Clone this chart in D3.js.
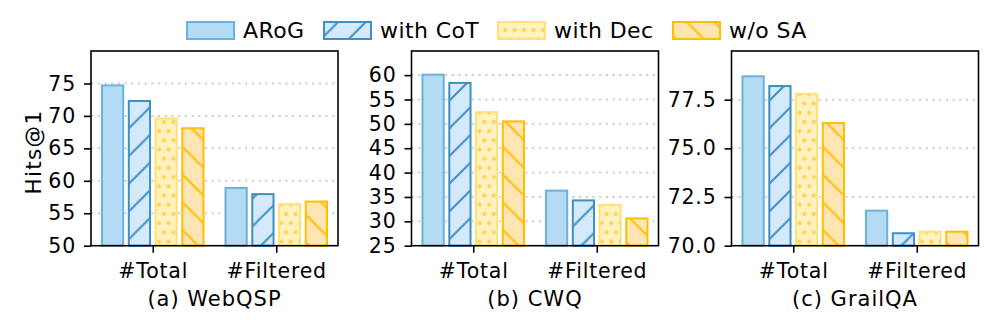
<!DOCTYPE html>
<html>
<head>
<meta charset="utf-8">
<script src="https://cdn.jsdelivr.net/npm/d3@7"></script>
<style>
  body { margin: 0; background: #fff; }
  text { font-family: "DejaVu Sans", sans-serif; fill: #000; }
</style>
</head>
<body>
<div class="container"></div>
<script>
// data
const categories = ["#Total", "#Filtered"];
const seriesNames = ["ARoG", "with CoT", "with Dec", "w/o SA"];

// rows = series, columns = categories
const webqspValues = [[74.7, 58.9], [72.3, 57.95], [69.6, 56.4], [68.1, 56.8]];
const cwqValues = [[60.1, 36.3], [58.4, 34.3], [52.4, 33.4], [50.5, 30.6]];
const grailValues = [[78.7, 71.8], [78.2, 70.64], [77.8, 70.72], [76.3, 70.72]];

const webqspTicks = [50, 55, 60, 65, 70, 75];
const cwqTicks = [25, 30, 35, 40, 45, 50, 55, 60];
const grailTicks = [70, 72.5, 75, 77.5];

const panels = [
  { caption: "(a) WebQSP", values: webqspValues, domain: [50, 80], ticks: webqspTicks, fmt: d3.format("d") },
  { caption: "(b) CWQ", values: cwqValues, domain: [25, 64.95], ticks: cwqTicks, fmt: d3.format("d") },
  { caption: "(c) GrailQA", values: grailValues, domain: [70, 80], ticks: grailTicks, fmt: d3.format(".1f") }
];

const width = 997;
const height = 332;
const panelLeft = [91, 411.5, 731.5];
const panelW = 247;
const plotTop = 51;
const plotBottom = 245.7;

const offsets = [-0.325, -0.108, 0.108, 0.325];
const barW = 0.172;

const styles = [
  { fill: "#b4dbf4", stroke: "#6cb0dc" },
  { fill: "url(#hatchFwd)", stroke: "#3f8fc5" },
  { fill: "url(#dots)", stroke: "#ffe07a" },
  { fill: "url(#hatchBack)", stroke: "#ffbf00" }
];

let svg = d3.select(".container").append("svg")
  .attr("width", width).attr("height", height);

// patterns
let defs = svg.append("defs");
const hs = 27.7;
let p1 = defs.append("pattern").attr("id", "hatchFwd")
  .attr("patternUnits", "userSpaceOnUse").attr("width", hs).attr("height", hs);
p1.append("rect").attr("width", hs).attr("height", hs).attr("fill", "#d4e9fa");
p1.append("path").attr("d", `M-5,5 L5,-5 M0,${hs} L${hs},0 M${hs - 5},${hs + 5} L${hs + 5},${hs - 5}`)
  .attr("stroke", "#3f8fc5").attr("stroke-width", 2);

let p3 = defs.append("pattern").attr("id", "hatchBack")
  .attr("patternUnits", "userSpaceOnUse").attr("width", hs).attr("height", hs);
p3.append("rect").attr("width", hs).attr("height", hs).attr("fill", "#ffe5b3");
p3.append("path").attr("d", `M-5,${hs - 5} L5,${hs + 5} M0,0 L${hs},${hs} M${hs - 5},-5 L${hs + 5},5`)
  .attr("stroke", "#ffbf00").attr("stroke-width", 2);

let p2 = defs.append("pattern").attr("id", "dots")
  .attr("patternUnits", "userSpaceOnUse").attr("width", 9.4).attr("height", 18.4);
p2.append("rect").attr("width", 9.4).attr("height", 18.4).attr("fill", "#fff2bf");
p2.append("circle").attr("cx", 2.4).attr("cy", 2.3).attr("r", 2).attr("fill", "#ffd24d");
p2.append("circle").attr("cx", 7.1).attr("cy", 11.5).attr("r", 2).attr("fill", "#ffd24d");

panels.forEach((p, k) => {
  let g = svg.append("g").attr("transform", `translate(${panelLeft[k]}, 0)`);

  let xScale = d3.scaleLinear([-0.5, 1.5], [0, panelW]);
  let yScale = d3.scaleLinear(p.domain, [plotBottom, plotTop]);

  // grid
  g.selectAll(".grid")
    .data(p.ticks.filter(t => t !== p.domain[0])).enter().append("line")
    .attr("x1", 0).attr("x2", panelW)
    .attr("y1", d => yScale(d)).attr("y2", d => yScale(d))
    .attr("stroke", "#cfcfcf").attr("stroke-width", 2)
    .attr("stroke-dasharray", "2.2,4.5");

  // bars
  p.values.forEach((row, s) => {
    g.selectAll(".bar" + s)
      .data(row).enter().append("rect")
      .attr("x", (d, i) => xScale(i + offsets[s] - barW / 2))
      .attr("y", d => yScale(d))
      .attr("width", xScale(barW) - xScale(0))
      .attr("height", d => plotBottom - yScale(d))
      .attr("fill", styles[s].fill)
      .attr("stroke", styles[s].stroke)
      .attr("stroke-width", 2);
  });

  // axes
  let yAxis = d3.axisLeft(yScale).tickValues(p.ticks).tickFormat(p.fmt)
    .tickSize(7).tickPadding(8);
  let ya = g.append("g").call(yAxis);
  let xAxis = d3.axisBottom(xScale).tickValues([0, 1]).tickFormat((d) => categories[d])
    .tickSize(7).tickPadding(11);
  let xa = g.append("g").attr("transform", `translate(0, ${plotBottom})`).call(xAxis);

  [ya, xa].forEach(a => {
    a.select(".domain").remove();
    a.selectAll(".tick line").attr("stroke", "#000").attr("stroke-width", 1.6);
    a.selectAll("text").style("font-size", "20.5px").style("letter-spacing", "0.8px").attr("fill", "#000");
  });

  // frame
  g.append("rect").attr("x", 0).attr("y", plotTop)
    .attr("width", panelW).attr("height", plotBottom - plotTop)
    .attr("fill", "none").attr("stroke", "#000").attr("stroke-width", 1.6);

  g.append("text")
    .attr("x", panelW / 2).attr("y", 306)
    .attr("text-anchor", "middle")
    .style("font-size", "21px").style("letter-spacing", "1px")
    .text(p.caption);
});

// y label
svg.append("text")
  .attr("transform", `translate(41, 152) rotate(-90)`)
  .attr("text-anchor", "middle")
  .style("font-size", "21.5px").style("letter-spacing", "1.3px")
  .text("Hits@1");

// legend
const legendX = [187, 324, 498, 673];
seriesNames.forEach((name, s) => {
  svg.append("rect")
    .attr("x", legendX[s]).attr("y", 22)
    .attr("width", 47).attr("height", 17)
    .attr("fill", styles[s].fill)
    .attr("stroke", styles[s].stroke).attr("stroke-width", 2);
  svg.append("text")
    .attr("x", legendX[s] + 56).attr("y", 38)
    .style("font-size", "22px").style("letter-spacing", "0.4px")
    .text(name);
});
</script>
</body>
</html>
